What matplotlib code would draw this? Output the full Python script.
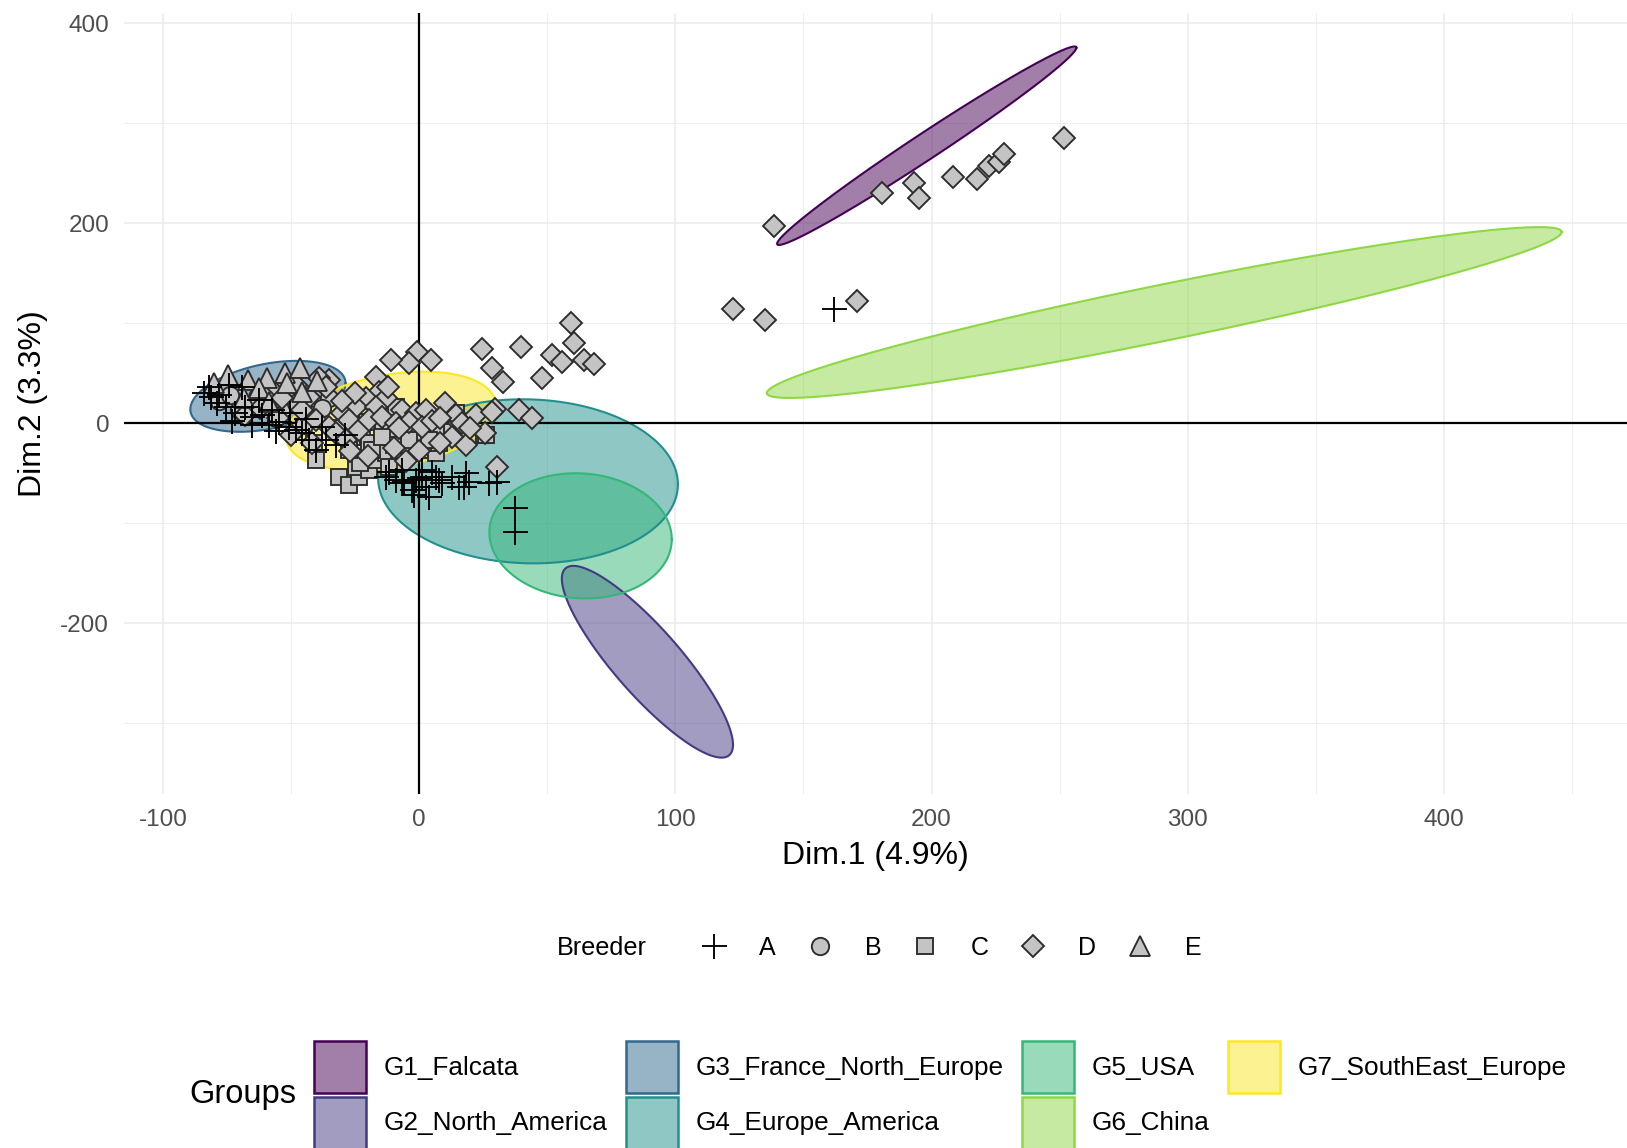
import numpy as np
import matplotlib
matplotlib.use("Agg")
import matplotlib.pyplot as plt
from matplotlib.lines import Line2D
from matplotlib.patches import Patch

plt.rcParams['font.family'] = ['Liberation Sans', 'DejaVu Sans']
plt.rcParams['axes.unicode_minus'] = False

# groups / confidence ellipses (centre, extreme-x offset, vertical half-height at centre)
groups = ['G1_Falcata', 'G2_North_America', 'G3_France_North_Europe',
          'G4_Europe_America', 'G5_USA', 'G6_China', 'G7_SouthEast_Europe']
group_colors = ['#440154', '#443A83', '#31688E', '#21908C', '#35B779', '#8FD744', '#FDE725']
ell_cx = [198.1, 89.1, -59.0, 42.5, 63.0, 290.8, -11.0]
ell_cy = [277.6, -238.4, 27.0, -58.0, -112.5, 110.8, 2.3]
ell_ux = [58.4, 33.4, 30.3, 58.5, 35.6, 155.1, 41.0]
ell_uy = [98.0, -83.0, 13.0, -3.0, -3.4, 80.5, 15.3]
ell_w = [15.7, 48.0, 33.0, 82.0, 62.5, 28.5, 47.0]

# breeder A (+)
a_x = [-82, -81.4, -78.1, -74.2, -69, -75.5, -71.7, -65.2, -61.3, -58.7, -54.8, -50.9, -48.2, -45.6, -65.2,
       -67.8, -57.4, -62.6, -43, -40.4, -36.5, -32.6, -50.3, -84, -79, -73, -56, -44, -38, -29,
       -13, -6.6, -1.3, 1.3, 2.6, 3.9, 9.1, 12.9, 15.5, 19.4, 27.2, 1.3, -6.6, -2.6, 6.4, 18.1,
       -9.2, -0.1, 5.1, -11.8, -2, 7.7, 17.5, 30.4, -5.9,
       37.3, 37.3, 162]
a_y = [36.6, 26.6, 28.3, 38.3, 36.6, 16.6, 10, 6.6, 8.3, -1.7, 1.6, -3.4, -6.7, -10, -1.7,
       16.6, 13.3, 23.3, -16.7, -26.7, -16.7, -21.7, 10, 30, 20, 2, -8, 4, -4, -12,
       -53.4, -60, -56.7, -53.4, -63.4, -73.4, -60, -53.4, -63.4, -58.4, -60, -46.7, -46.7, -66.7, -53.4, -50,
       -56.7, -55, -48.4, -48.4, -71.7, -56.7, -63.3, -59, -58.4,
       -85, -108.8, 114]

# breeder B (circle)
b_x = [-70.4, -53.5, -71.7, -63.3, -60, -48, -42, -35, -78, -56, -66, -38, -45, -58, -74]
b_y = [13.3, 13.3, 30, 26.6, 25, 20, 8, 25, 22, 5, 18, 15, -2, 33, 28]

# breeder C (square)
c_x = [-40.4, -31.3, -27.3, -23.5, -24.8, -19.6, -17, -24.8, -22.2, -19.6, -14.3, -11.7, -7.8, -5.2, -2.6,
       1.3, 3.9, 9.1, 12.9, 14.3, 25.4, -17, -13, -7.8, -3.9, 2.6, 6.4, 7.7, -9.1, -29.4, -26.1, -20.3,
       -11.1, -5.3, -1.4, 2.5, 6.4, -9.8, -4, 3.8, -18.3, -14.4, -22.9, -11.8, -27.4, 26, -41.1, -32]
c_y = [-36.7, -53.4, -61.7, -53.4, -43.4, -46.7, -36.7, -13.4, -5, -20, -6.7, -16.7, -10, -3.4, -13.4,
       -15, -6.7, -13.4, -8.4, 10, -11.7, -26.7, -30, -26.7, -30, -26.7, -30, -20, 16.6, -6.7, -13.4, 1.6,
       -6.7, 0, -13.4, 6.6, -5, -21.7, -16.7, -16.7, -26.7, -13.4, -40, -43.4, -26.7, -11.7, -20, -5]

# breeder D (diamond)
d_x = [138.6, 180.8, 193, 195, 208.4, 217.7, 222.5, 226.2, 228.2, 251.7, 122.4, 135, 170.7,
       59.2, 60.5, 39.6, 52, 55.9, 64.4, 68.3, 24.7, 28.6, 32.7, 47.8, 39, 44.2, 30.5, -0.7, -4, 4.5,
       -11, 29.6, 18.2, 15.5, 25.7, -17,
       -15.7, -13, -20.9, -24.8, -17, -6.6, -1.3, 2.6, 14.3, 22.1, 28.6, 16.8, 12.9, -60, -53.5, -43,
       -35.2, -39.1, -36.5, -45.6, -40.4, -35.2, -30, -27.3, -32.6, -28.7, -23.5, -19.6, -14.3, -9.1,
       -3.9, 1.3, -8, 5, 8, -10, -20, -5, 10, -25, -30, -48, -55, -62, -68, -50, -42, 8, 20, -12, -27, 0]
d_y = [196.9, 230, 240, 225, 246.6, 244.6, 257, 261, 269.4, 285, 114, 103.6, 122.3,
       100, 80, 76.6, 68.3, 61.6, 63.3, 59.3, 74, 55, 41.6, 45, 13.3, 5, -43.4, 71.6, 60, 63.3,
       63, 14, -21.7, 0, -10, 46.6,
       31.6, 25, 25, 16.6, 16.6, 13.3, 10, 13.3, 8.3, 8.3, 11.6, 0, -13.4, 26.6, 25, 26.6,
       43.3, 45, 36.6, 13.3, 3.3, -3.4, 10, 3.3, -10, -16.7, -6.7, 3.3, 6.6, 0,
       1.6, -3.4, -5, 2, -20, -25, -33, -38, 20, 30, 22, 38, 5, 15, 8, -12, -20, 5, -5, 36, -28, -28]

# breeder E (triangle)
e_x = [-74.4, -66.6, -59.2, -52.2, -46.3, -62.5, -68.3, -58.7, -45.6, -51.5, -80, -40]
e_y = [48.3, 43.3, 45, 50, 55, 35, 25, 21.6, 31.6, 40, 40, 42]

fig = plt.figure(figsize=(16.27, 11.48), dpi=100)
ax = fig.add_axes([0.0765, 0.3085, 0.9235, 0.6806])

# grid
for v in [-50, 50, 150, 250, 350, 450]:
    ax.axvline(v, color='#EBEBEB', lw=0.6, zorder=0)
for v in [-300, -100, 100, 300]:
    ax.axhline(v, color='#EBEBEB', lw=0.6, zorder=0)
for v in [-100, 0, 100, 200, 300, 400]:
    ax.axvline(v, color='#EBEBEB', lw=1.1, zorder=0)
for v in [-200, 0, 200, 400]:
    ax.axhline(v, color='#EBEBEB', lw=1.1, zorder=0)

t = np.linspace(0, 2 * np.pi, 300)
for i, g in enumerate(groups):
    ex = ell_cx[i] + ell_ux[i] * np.cos(t)
    ey = ell_cy[i] + ell_uy[i] * np.cos(t) + ell_w[i] * np.sin(t)
    ax.fill(ex, ey, facecolor=group_colors[i], alpha=0.5, edgecolor='none', zorder=1)
    ax.plot(ex, ey, color=group_colors[i], lw=1.5, zorder=1.1)

ax.axhline(0, color='black', lw=1.6, zorder=1.5)
ax.axvline(0, color='black', lw=1.6, zorder=1.5)

fill = '#C4C4C4'
edge = '#2B2B2B'
mw = 1.35
ms_o, ms_s, ms_d, ms_t, ms_p = 12.5, 11.5, 11.5, 14, 18
ax.plot(b_x, b_y, 'o', ms=ms_o, mfc=fill, mec=edge, mew=mw, zorder=3)
ax.plot(c_x, c_y, 's', ms=ms_s, mfc=fill, mec=edge, mew=mw, zorder=3)
ax.plot(d_x, d_y, 'D', ms=ms_d, mfc=fill, mec=edge, mew=mw, zorder=3)
ax.plot(e_x, e_y, '^', ms=ms_t, mfc=fill, mec=edge, mew=mw, zorder=3)
ax.plot(a_x, a_y, '+', ms=ms_p, color='black', mew=mw, zorder=3)

ax.set_xlim(-115, 471.4)
ax.set_ylim(-370.5, 410.8)
ax.set_xticks([-100, 0, 100, 200, 300, 400])
ax.set_yticks([-200, 0, 200, 400])
ax.tick_params(length=0, labelsize=17.5, labelcolor='#4D4D4D', pad=11)
for s in ax.spines.values():
    s.set_visible(False)
ax.set_xlabel('Dim.1 (4.9%)', fontsize=23, labelpad=7)
ax.set_ylabel('Dim.2 (3.3%)', fontsize=23, labelpad=9)

# Breeder legend
bh = [Line2D([], [], ls='none', marker='+', ms=ms_p, color='black', mew=mw),
      Line2D([], [], ls='none', marker='o', ms=ms_o, mfc=fill, mec=edge, mew=mw),
      Line2D([], [], ls='none', marker='s', ms=ms_s, mfc=fill, mec=edge, mew=mw),
      Line2D([], [], ls='none', marker='D', ms=ms_d, mfc=fill, mec=edge, mew=mw),
      Line2D([], [], ls='none', marker='^', ms=ms_t, mfc=fill, mec=edge, mew=mw)]
fig.text(0.342, 0.174, 'Breeder', fontsize=18.2, va='center', ha='left')
fig.legend(bh, ['A', 'B', 'C', 'D', 'E'], loc='center left', bbox_to_anchor=(0.431, 0.174),
           ncol=5, frameon=False, fontsize=18, handlelength=1.0, handletextpad=1.3,
           columnspacing=1.27, borderpad=0, borderaxespad=0)

# Groups legend
gh = [Patch(facecolor=matplotlib.colors.to_rgba(c, 0.5), edgecolor=c, lw=1.8) for c in group_colors]
fig.text(0.1167, 0.0464, 'Groups', fontsize=23.5, va='center', ha='left')
fig.legend(gh, groups, loc='center left', bbox_to_anchor=(0.1932, 0.0464), ncol=4,
           frameon=False, fontsize=18.8, handlelength=1.99, handleheight=2.68,
           handletextpad=0.68, columnspacing=0.7, labelspacing=0.15, borderpad=0, borderaxespad=0)

fig.savefig('out.png', dpi=100)
